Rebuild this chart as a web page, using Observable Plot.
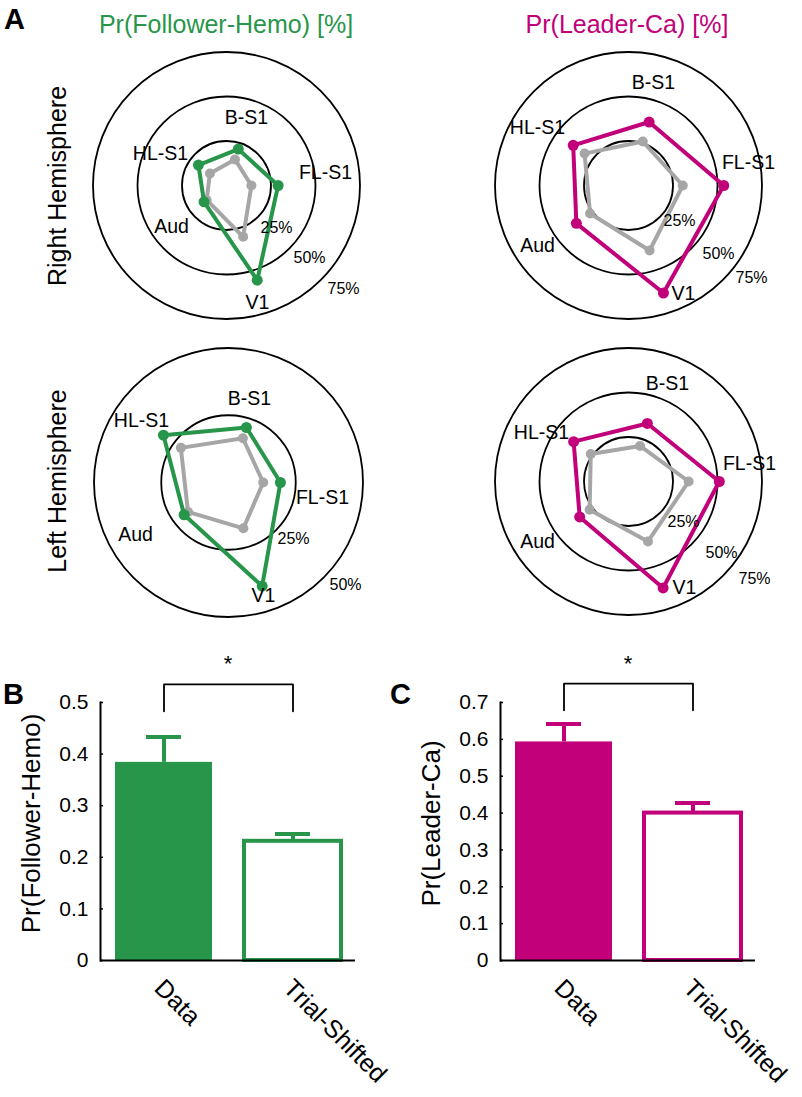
<!DOCTYPE html>
<html><head><meta charset="utf-8">
<script src="https://cdn.jsdelivr.net/npm/d3@7"></script>
<script src="https://cdn.jsdelivr.net/npm/@observablehq/plot@0.6"></script>
<style>
body{margin:0;background:#fff;}
#fig{position:relative;width:802px;height:1097px;overflow:hidden;font-family:"Liberation Sans",Arial,sans-serif;color:#000;background:#fff;}
.lbl{position:absolute;white-space:nowrap;line-height:1;}
.panel{position:absolute;}
</style></head><body><div id="fig"></div>
<script>
// ---------- data ----------
const regions = ["B-S1", "FL-S1", "V1", "Aud", "HL-S1"];
const regionAngles = [18, 90, 162, 234, 306]; // degrees clockwise from up

// Radar values in percent
const rightFollowerData  = [21.5, 29.0, 55.9, 15.6, 19.5];
const rightFollowerShift = [15.4, 14.0, 30.3, 13.8, 11.5];
const rightLeaderData    = [37.5, 53.5, 63.5, 36.2, 38.4];
const rightLeaderShift   = [26.0, 30.5, 38.4, 26.7, 30.5];
const leftFollowerData   = [21.5, 19.3, 40.5, 20.4, 29.9];
const leftFollowerShift  = [17.3, 12.9, 17.9, 18.6, 21.9];
const leftLeaderData     = [34.3, 51.0, 62.9, 33.9, 38.1];
const leftLeaderShift    = [21.0, 33.8, 35.4, 27.0, 26.2];
const ringsThree = [25, 50, 75];
const ringsTwo = [25, 50];

// Bar values
const barCats = ["Data", "Trial-Shifted"];
const followerMean = [0.384, 0.231];
const followerErr  = [0.049, 0.014];
const leaderMean   = [0.593, 0.400];
const leaderErr    = [0.049, 0.027];
const followerTicks = [0, 0.1, 0.2, 0.3, 0.4, 0.5];
const leaderTicks = [0, 0.1, 0.2, 0.3, 0.4, 0.5, 0.6, 0.7];

// ---------- style ----------
const FONT = '"Liberation Sans", Arial, sans-serif';
const GREEN = "#27964a", MAGENTA = "#c1007a", GRAY = "#a6a6a6";
const fig = document.getElementById("fig");

function place(node, left, top, w) {
  const d = document.createElement("div");
  d.className = "panel";
  d.style.left = left + "px"; d.style.top = top + "px"; d.style.width = w + "px";
  d.appendChild(node); fig.appendChild(d);
}
function label(text, css) {
  const d = document.createElement("div");
  d.className = "lbl"; d.textContent = text;
  Object.assign(d.style, css); fig.appendChild(d);
}

// ---------- radar ----------
function polar(vals) {
  return vals.map((v, i) => {
    const a = regionAngles[i] * Math.PI / 180;
    return {region: regions[i], v, x: v * Math.sin(a), y: v * Math.cos(a)};
  });
}
function radar({data, shift, color, rings, k, labelPx, ringPx}) {
  const half = 150 / k;
  const pd = polar(data), ps = polar(shift);
  const lab = regions.map(r => ({text: r, x: labelPx[r][0] / k, y: -labelPx[r][1] / k}));
  const rl = rings.map((r, i) => ({text: r + "%", x: ringPx[i][0] / k, y: -ringPx[i][1] / k}));
  return Plot.plot({
    width: 300, height: 300, margin: 0,
    x: {domain: [-half, half], axis: null},
    y: {domain: [-half, half], axis: null},
    r: {type: "identity"},
    style: {background: "none", overflow: "visible", fontFamily: FONT},
    marks: [
      Plot.dot(rings, {x: () => 0, y: () => 0, r: d => d * k, stroke: "#000", strokeWidth: 1.8, fill: "none"}),
      Plot.line(ps, {x: "x", y: "y", curve: "linear-closed", stroke: GRAY, strokeWidth: 4}),
      Plot.dot(ps, {x: "x", y: "y", r: 5, fill: GRAY}),
      Plot.line(pd, {x: "x", y: "y", curve: "linear-closed", stroke: color, strokeWidth: 4}),
      Plot.dot(pd, {x: "x", y: "y", r: 5.5, fill: color}),
      Plot.text(lab, {x: "x", y: "y", text: "text", fontSize: 19.5, fill: "#000"}),
      Plot.text(rl, {x: "x", y: "y", text: "text", fontSize: 16, fill: "#000"})
    ]
  });
}

const K3 = 1.78, K2 = 2.69;
place(radar({data: rightFollowerData, shift: rightFollowerShift, color: GREEN, rings: ringsThree, k: K3,
  labelPx: {"B-S1": [20, -68], "FL-S1": [99, -13], "V1": [31, 117], "Aud": [-55, 41], "HL-S1": [-66, -32]},
  ringPx: [[50, 42], [83, 72], [117, 103]]}), 226 - 150, 185 - 150, 300);
place(radar({data: rightLeaderData, shift: rightLeaderShift, color: MAGENTA, rings: ringsThree, k: K3,
  labelPx: {"B-S1": [25, -103], "FL-S1": [120, -23], "V1": [55, 108], "Aud": [-91, 60], "HL-S1": [-91, -58]},
  ringPx: [[51, 35], [90, 68], [123, 92]]}), 628 - 150, 185 - 150, 300);
place(radar({data: leftFollowerData, shift: leftFollowerShift, color: GREEN, rings: ringsTwo, k: K2,
  labelPx: {"B-S1": [21, -84], "FL-S1": [94, 15], "V1": [35, 113], "Aud": [-93, 52], "HL-S1": [-87, -62]},
  ringPx: [[65, 56], [117, 102]]}), 228 - 150, 481.5 - 150, 300);
place(radar({data: leftLeaderData, shift: leftLeaderShift, color: MAGENTA, rings: ringsThree, k: K3,
  labelPx: {"B-S1": [39, -98], "FL-S1": [121, -18], "V1": [56, 106], "Aud": [-91, 60], "HL-S1": [-87, -49]},
  ringPx: [[55, 40], [93, 71], [126, 97]]}), 627.5 - 150, 480.5 - 150, 300);

// ---------- bars ----------
function barChart({means, errs, color, yMax, ticks, ylabel, bracketY, legY, starY}) {
  const rows = barCats.map((c, i) => ({cat: c, v: means[i], e: means[i] + errs[i]}));
  const bracket = [
    {cat: barCats[0], y: legY}, {cat: barCats[0], y: bracketY},
    {cat: barCats[1], y: bracketY}, {cat: barCats[1], y: legY}
  ];
  return Plot.plot({
    width: 400, height: 457, marginLeft: 100, marginRight: 45, marginTop: 62, marginBottom: 137,
    x: {domain: barCats, paddingInner: 0.25, paddingOuter: 0.11, axis: null},
    y: {domain: [0, yMax], axis: null},
    style: {background: "none", overflow: "visible", fontFamily: FONT, color: "#000"},
    marks: [
      Plot.ruleX(rows, {x: "cat", y1: "v", y2: "e", stroke: color, strokeWidth: 4}),
      Plot.tickY(rows, {x: "cat", y: "e", stroke: color, strokeWidth: 4, insetLeft: 31, insetRight: 31}),
      Plot.barY(rows.slice(0, 1), {x: "cat", y: "v", fill: color}),
      Plot.barY(rows.slice(1), {x: "cat", y: "v", fill: "white", stroke: color, strokeWidth: 4}),
      Plot.tickY(ticks, {y: d => d, stroke: "#000", strokeWidth: 1.5, insetRight: 252}),
      Plot.ruleY([0], {stroke: "#000", strokeWidth: 2}),
      Plot.frame({anchor: "left", stroke: "#000", strokeWidth: 2}),
      Plot.axisY({ticks, tickSize: 0, tickPadding: 12, fontSize: 21, tickFormat: d => d === 0 ? "0" : d.toFixed(1)}),
      Plot.text(rows, {x: "cat", text: "cat", frameAnchor: "bottom", rotate: 45, textAnchor: "start", lineAnchor: "bottom", dx: -11, dy: 29, fontSize: 25, fill: "#000"}),
      Plot.text([ylabel], {text: d => d, frameAnchor: "left", rotate: -90, textAnchor: "middle", lineAnchor: "middle", dx: -69, dy: -8, fontSize: 26, fill: "#000"}),
      Plot.line(bracket, {x: "cat", y: "y", stroke: "#000", strokeWidth: 1.8}),
      Plot.text(["*"], {text: d => d, frameAnchor: "middle", y: () => starY, fontSize: 22, fill: "#000"})
    ]
  });
}
place(barChart({means: followerMean, errs: followerErr, color: GREEN, yMax: 0.5, ticks: followerTicks,
  ylabel: "Pr(Follower-Hemo)", bracketY: 0.535, legY: 0.483, starY: 0.575}), 0, 640, 400);
place(barChart({means: leaderMean, errs: leaderErr, color: MAGENTA, yMax: 0.7, ticks: leaderTicks,
  ylabel: "Pr(Leader-Ca)", bracketY: 0.751, legY: 0.679, starY: 0.805}), 400, 640, 402);

// ---------- text annotations ----------
label("A", {left: "4px", top: "5px", fontSize: "29px", fontWeight: "bold"});
label("B", {left: "3px", top: "680px", fontSize: "29px", fontWeight: "bold"});
label("C", {left: "390px", top: "680px", fontSize: "29px", fontWeight: "bold"});
label("Pr(Follower-Hemo) [%]", {left: "76px", width: "300px", textAlign: "center", top: "12px", fontSize: "25px", color: GREEN});
label("Pr(Leader-Ca) [%]", {left: "477px", width: "300px", textAlign: "center", top: "12px", fontSize: "25px", color: MAGENTA});
label("Right Hemisphere", {left: "57px", top: "186px", fontSize: "25px", transform: "translate(-50%,-50%) rotate(-90deg)"});
label("Left Hemisphere", {left: "57px", top: "481px", fontSize: "25px", transform: "translate(-50%,-50%) rotate(-90deg)"});
</script></body></html>
